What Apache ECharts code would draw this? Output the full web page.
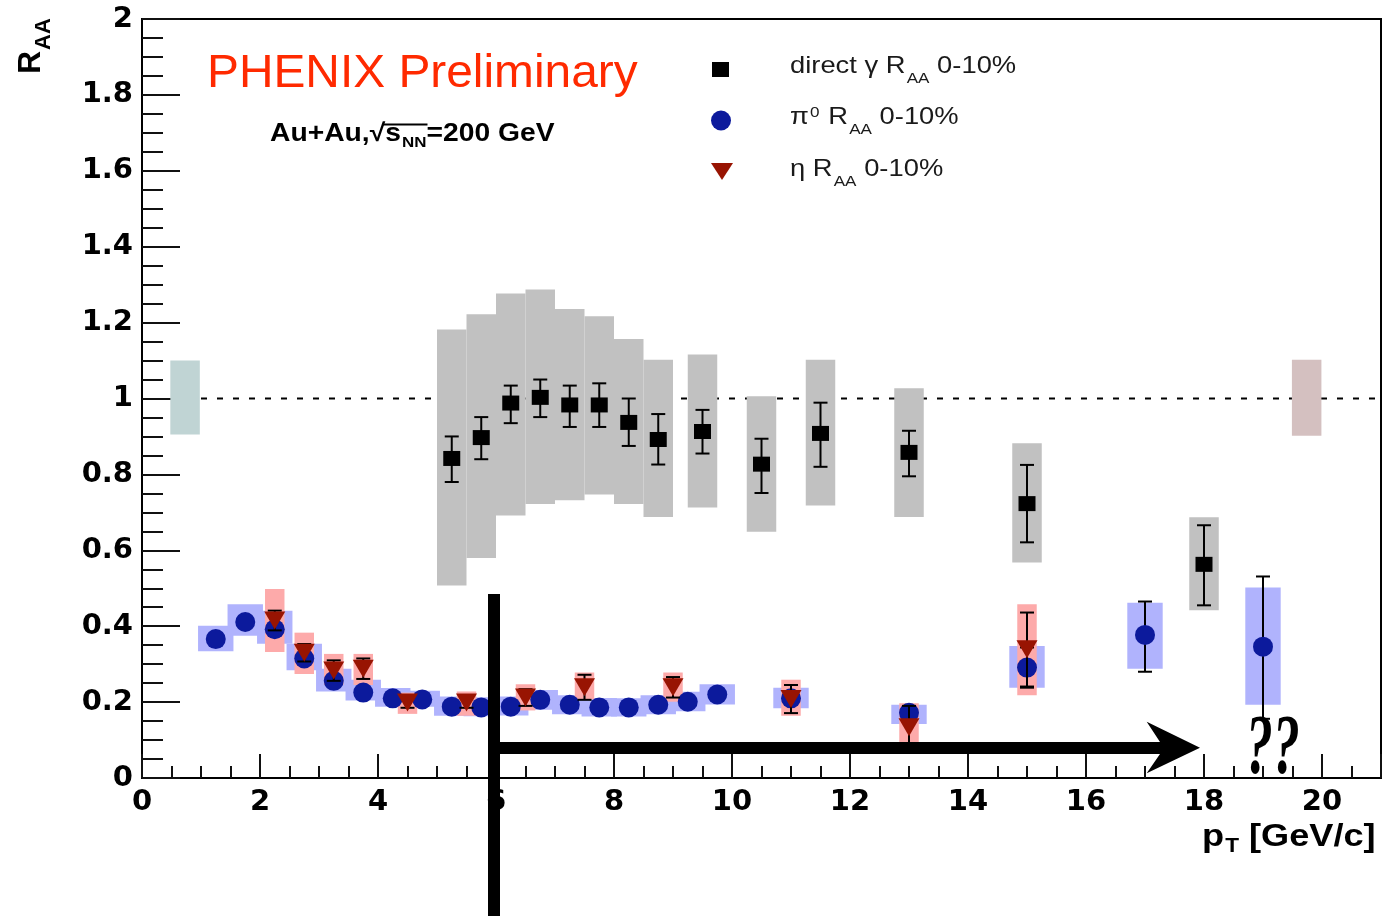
<!DOCTYPE html>
<html><head><meta charset="utf-8">
<script src="https://cdn.jsdelivr.net/npm/echarts@6/dist/echarts.min.js"></script>
<style>html,body{margin:0;padding:0;background:#fff;} #c{width:1384px;height:916px;}</style>
</head><body><div id="c"></div>
<script>
// ---------------- data ----------------
const xTickLabels = ['0','2','4','6','8','10','12','14','16','18','20'];
const yTickLabels = ['0','0.2','0.4','0.6','0.8','1','1.2','1.4','1.6','1.8','2'];

// direct photon R_AA 0-10%
const gammaX      = [5.25, 5.75, 6.25, 6.75, 7.25, 7.75, 8.25, 8.75, 9.5, 10.5, 11.5, 13, 15, 18];
const gammaY      = [0.842, 0.897, 0.988, 1.003, 0.983, 0.983, 0.937, 0.892, 0.913, 0.827, 0.908, 0.858, 0.723, 0.563];
const gammaStatLo = [0.780, 0.840, 0.935, 0.951, 0.925, 0.925, 0.875, 0.826, 0.855, 0.751, 0.820, 0.795, 0.621, 0.455];
const gammaStatHi = [0.900, 0.951, 1.034, 1.050, 1.034, 1.040, 1.000, 0.959, 0.970, 0.894, 0.989, 0.915, 0.825, 0.666];
const gammaSysLo  = [0.507, 0.580, 0.692, 0.722, 0.732, 0.747, 0.722, 0.688, 0.713, 0.649, 0.718, 0.688, 0.568, 0.442];
const gammaSysHi  = [1.182, 1.222, 1.277, 1.287, 1.236, 1.217, 1.157, 1.102, 1.116, 1.006, 1.102, 1.027, 0.882, 0.687];

// pi0 R_AA 0-10%
const pi0X      = [1.25, 1.75, 2.25, 2.75, 3.25, 3.75, 4.25, 4.75, 5.25, 5.75, 6.25, 6.75, 7.25, 7.75, 8.25, 8.75, 9.25, 9.75, 11, 13, 15, 17, 19];
const pi0Y      = [0.366, 0.411, 0.392, 0.315, 0.256, 0.225, 0.210, 0.207, 0.188, 0.186, 0.188, 0.206, 0.193, 0.186, 0.186, 0.193, 0.201, 0.220, 0.210, 0.172, 0.291, 0.377, 0.346];
const pi0StatLo = [0.358, 0.403, 0.384, 0.308, 0.249, 0.219, 0.204, 0.201, 0.182, 0.180, 0.182, 0.200, 0.187, 0.180, 0.180, 0.186, 0.194, 0.212, 0.198, 0.155, 0.238, 0.280, 0.156];
const pi0StatHi = [0.374, 0.419, 0.400, 0.322, 0.263, 0.231, 0.216, 0.213, 0.194, 0.192, 0.194, 0.212, 0.199, 0.192, 0.192, 0.200, 0.208, 0.228, 0.222, 0.189, 0.344, 0.465, 0.531];
const pi0SysLo  = [0.334, 0.375, 0.354, 0.284, 0.228, 0.204, 0.188, 0.188, 0.164, 0.163, 0.165, 0.180, 0.168, 0.162, 0.162, 0.168, 0.176, 0.194, 0.184, 0.142, 0.238, 0.288, 0.193];
const pi0SysHi  = [0.401, 0.458, 0.441, 0.354, 0.288, 0.259, 0.237, 0.230, 0.215, 0.213, 0.215, 0.232, 0.218, 0.211, 0.210, 0.218, 0.227, 0.247, 0.238, 0.193, 0.348, 0.462, 0.502];

// eta R_AA 0-10%
const etaX      = [2.25, 2.75, 3.25, 3.75, 4.5, 5.5, 6.5, 7.5, 9, 11, 13, 15];
const etaY      = [0.415, 0.330, 0.283, 0.288, 0.199, 0.199, 0.212, 0.239, 0.239, 0.208, 0.134, 0.339];
const etaStatLo = [0.389, 0.307, 0.256, 0.261, 0.185, 0.185, 0.190, 0.206, 0.212, 0.171, 0.078, 0.241];
const etaStatHi = [0.441, 0.353, 0.310, 0.315, 0.213, 0.213, 0.234, 0.272, 0.266, 0.245, 0.190, 0.436];
const etaSysLo  = [0.332, 0.274, 0.245, 0.245, 0.169, 0.164, 0.178, 0.207, 0.201, 0.164, 0.075, 0.218];
const etaSysHi  = [0.498, 0.383, 0.327, 0.327, 0.225, 0.228, 0.247, 0.278, 0.278, 0.259, 0.197, 0.458];

// normalisation uncertainty boxes at R_AA = 1
const normX  = [0.73, 19.74];
const normLo = [0.905, 0.902];
const normHi = [1.100, 1.102];

// reference line
const unityLine = [[1, 1], [21, 1]];

// ---------------- helpers ----------------
const zip3 = (x, a, b) => x.map((v, i) => [v, a[i], b[i]]);
const zip2 = (x, a) => x.map((v, i) => [v, a[i]]);

function boxRender(half, colors) {
  return function (params, api) {
    const x = api.value(0), lo = api.value(1), hi = api.value(2);
    const p1 = api.coord([x - half, hi]);
    const p2 = api.coord([x + half, lo]);
    const fill = Array.isArray(colors) ? colors[params.dataIndex] : colors;
    return { type: 'rect', shape: { x: p1[0], y: p1[1], width: p2[0] - p1[0], height: p2[1] - p1[1] },
             style: { fill: fill } };
  };
}
function errRender(cap) {
  return function (params, api) {
    const x = api.value(0);
    const lo = api.coord([x, api.value(1)]);
    const hi = api.coord([x, api.value(2)]);
    const st = { stroke: '#000', lineWidth: 2 };
    return { type: 'group', children: [
      { type: 'line', shape: { x1: lo[0], y1: lo[1], x2: hi[0], y2: hi[1] }, style: st },
      { type: 'line', shape: { x1: lo[0] - cap, y1: lo[1], x2: lo[0] + cap, y2: lo[1] }, style: st },
      { type: 'line', shape: { x1: hi[0] - cap, y1: hi[1], x2: hi[0] + cap, y2: hi[1] }, style: st }
    ] };
  };
}

const LF = '"Liberation Sans", Arial, Helvetica, sans-serif';
const MID = 0.3465; // baseline offset below canvas 'middle'

function richText(left, baseline, fs, subFs, subPad, text, opts) {
  opts = opts || {};
  const w = opts.weight || 'normal';
  const col = opts.color || '#1a1a1a';
  return {
    type: 'text', x: left, y: baseline - (0.5 + MID) * fs, scaleX: opts.scaleX || 1,
    rotation: opts.rotation || 0, z: 100, silent: true,
    style: {
      text: text, align: 'left', verticalAlign: 'top', fill: col,
      font: w + ' ' + fs + 'px ' + LF,
      rich: {
        m: { fontSize: fs, fontFamily: LF, fontWeight: w, fill: col, verticalAlign: 'top' },
        s: { fontSize: subFs, fontFamily: LF, fontWeight: w, fill: col, verticalAlign: 'top', padding: [subPad, 0, 0, 1] },
        u: { fontSize: subFs, fontFamily: LF, fontWeight: w, fill: col, verticalAlign: 'top', padding: [0, 1, 0, 1] }
      }
    }
  };
}

function measure(str, font) {
  const c = document.createElement('canvas').getContext('2d');
  c.font = font; return c.measureText(str).width;
}

// ---------------- chart ----------------
const chart = echarts.init(document.getElementById('c'), null, { renderer: 'canvas' });

const tickFont = { fontFamily: '"DejaVu Sans", sans-serif', fontWeight: 'bold', fontSize: 29, color: '#000' };

// Au+Au text geometry (overline over s_NN)
const auLeft = 270, auBase = 143, auFs = 25, auSub = 15, auScale = 1.13;
const w1 = measure('Au+Au,\u221A', 'bold ' + auFs + 'px ' + LF);
const w2 = measure('s', 'bold ' + auFs + 'px ' + LF) + 1 + measure('NN', 'bold ' + auSub + 'px ' + LF);

const option = {
  animation: false,
  backgroundColor: '#fff',
  grid: { left: 142, right: 2, top: 19, bottom: 138, show: true, borderColor: '#000', borderWidth: 2, backgroundColor: 'transparent' },
  xAxis: [
    { type: 'value', min: 0, max: 21, interval: 2, position: 'bottom', gridIndex: 0,
      axisLine: { show: true, onZero: false, lineStyle: { color: '#000', width: 2 } },
      axisTick: { show: true, inside: true, length: 24, lineStyle: { color: '#111', width: 2 } },
      axisLabel: Object.assign({ margin: 10, formatter: v => { const i = Math.round(v / 2); return (v % 2 === 0 && i < xTickLabels.length) ? xTickLabels[i] : ''; } }, tickFont),
      splitLine: { show: false } },
    { type: 'value', min: 0, max: 21, interval: 0.5, position: 'bottom', gridIndex: 0,
      axisLine: { show: false, onZero: false },
      axisTick: { show: true, inside: true, length: 12, lineStyle: { color: '#111', width: 2 } },
      axisLabel: { show: false }, splitLine: { show: false } }
  ],
  yAxis: [
    { type: 'value', min: 0, max: 2, interval: 0.2, position: 'left', gridIndex: 0,
      axisLine: { show: true, onZero: false, lineStyle: { color: '#000', width: 2 } },
      axisTick: { show: true, inside: true, length: 38, lineStyle: { color: '#111', width: 2 } },
      axisLabel: Object.assign({ margin: 9, padding: [10, 0, 0, 0], formatter: v => yTickLabels[Math.round(v / 0.2)] }, tickFont),
      splitLine: { show: false } },
    { type: 'value', min: 0, max: 2, interval: 0.05, position: 'left', gridIndex: 0,
      axisLine: { show: false, onZero: false },
      axisTick: { show: true, inside: true, length: 21, lineStyle: { color: '#111', width: 2 } },
      axisLabel: { show: false }, splitLine: { show: false } }
  ],
  series: [
    { name: 'unity', type: 'line', data: unityLine, symbol: 'none', z: 1, silent: true,
      lineStyle: { color: '#000', width: 2, type: [6, 10] } },
    { name: 'norm', type: 'custom', z: 2, silent: true, data: zip3(normX, normLo, normHi),
      encode: { x: 0, y: [1, 2] }, renderItem: boxRender(0.25, ['#c0d4d4', '#d4c0c0']) },
    { name: 'gammaSys', type: 'custom', z: 2, silent: true, data: zip3(gammaX, gammaSysLo, gammaSysHi),
      encode: { x: 0, y: [1, 2] }, renderItem: boxRender(0.25, '#c1c1c1') },
    { name: 'pi0Sys', type: 'custom', z: 2, silent: true, data: zip3(pi0X, pi0SysLo, pi0SysHi),
      encode: { x: 0, y: [1, 2] }, renderItem: boxRender(0.3, '#b0b3fd') },
    { name: 'etaSys', type: 'custom', z: 3, silent: true, data: zip3(etaX, etaSysLo, etaSysHi),
      encode: { x: 0, y: [1, 2] }, renderItem: boxRender(0.165, '#fdaaaa') },
    { name: 'gammaStat', type: 'custom', z: 4, silent: true, data: zip3(gammaX, gammaStatLo, gammaStatHi),
      encode: { x: 0, y: [1, 2] }, renderItem: errRender(7) },
    { name: 'direct \u03B3 R_AA 0-10%', type: 'scatter', z: 5, data: zip2(gammaX, gammaY),
      symbol: 'rect', symbolSize: [17, 15], itemStyle: { color: '#000', opacity: 1 } },
    { name: 'pi0Stat', type: 'custom', z: 4, silent: true, data: zip3(pi0X, pi0StatLo, pi0StatHi),
      encode: { x: 0, y: [1, 2] }, renderItem: errRender(7) },
    { name: '\u03C0\u2070 R_AA 0-10%', type: 'scatter', z: 5, data: zip2(pi0X, pi0Y),
      symbol: 'circle', symbolSize: 20, itemStyle: { color: '#0c1a9c', opacity: 1 } },
    { name: 'etaStat', type: 'custom', z: 6, silent: true, data: zip3(etaX, etaStatLo, etaStatHi),
      encode: { x: 0, y: [1, 2] }, renderItem: errRender(7) },
    { name: '\u03B7 R_AA 0-10%', type: 'scatter', z: 7, data: zip2(etaX, etaY),
      symbol: 'triangle', symbolRotate: 180, symbolSize: [21, 18], itemStyle: { color: '#981402', opacity: 1 } }
  ],
  graphic: [
    // legend markers
    { type: 'rect', z: 100, shape: { x: 712, y: 62, width: 17, height: 15 }, style: { fill: '#000' } },
    { type: 'circle', z: 100, shape: { cx: 721, cy: 120.5, r: 10 }, style: { fill: '#0c1a9c' } },
    { type: 'polygon', z: 100, shape: { points: [[711, 163], [733, 163], [722, 180]] }, style: { fill: '#981402' } },
    // legend texts
    richText(790, 75, 24, 15, 17, '{m|direct \u03B3 R}{s|AA}{m| 0-10%}', { scaleX: 1.14 }),
    richText(790, 126, 24, 15, 17, '{m|\u03C0}{u|0}{m| R}{s|AA}{m| 0-10%}', { scaleX: 1.14 }),
    richText(790, 178, 24, 15, 17, '{m|\u03B7 R}{s|AA}{m| 0-10%}', { scaleX: 1.14 }),
    // PHENIX Preliminary
    { type: 'text', z: 100, x: 207, y: 90 - (0.5 + MID) * 46, scaleX: 1.04, silent: true,
      style: { text: 'PHENIX Preliminary', fill: '#ff2a00', font: 'normal 46px ' + LF, align: 'left', verticalAlign: 'top' } },
    // Au+Au, sqrt(s_NN) = 200 GeV
    richText(auLeft, auBase, auFs, auSub, 14, '{m|Au+Au,\u221As}{s|NN}{m|=200 GeV}', { weight: 'bold', color: '#000', scaleX: auScale }),
    { type: 'line', z: 100, shape: { x1: auLeft + auScale * w1 - 2, y1: auBase - 18.5, x2: auLeft + auScale * (w1 + w2) + 1, y2: auBase - 18.5 },
      style: { stroke: '#000', lineWidth: 2 } },
    // y axis title R_AA (rotated)
    { type: 'text', z: 100, x: 15, y: 74, rotation: Math.PI / 2, silent: true,
      style: { text: '{m|R}{s|AA}', align: 'left', verticalAlign: 'top', fill: '#000',
        rich: { m: { fontSize: 32, fontFamily: LF, fontWeight: 'bold', verticalAlign: 'top', fill: '#000' },
                s: { fontSize: 22, fontFamily: LF, fontWeight: 'bold', verticalAlign: 'top', fill: '#000', padding: [18, 0, 0, 1] } } } },
    // x axis title p_T [GeV/c]
    richText(1202, 848, 32, 20, 16, '{m|p}{s|T}{m| [GeV/c]}', { weight: 'bold', color: '#000', scaleX: 1.13 }),
    // thick annotation arrows
    { type: 'rect', z: 100, shape: { x: 488, y: 594, width: 12, height: 330 }, style: { fill: '#000' } },
    { type: 'rect', z: 100, shape: { x: 488, y: 742, width: 674, height: 12 }, style: { fill: '#000' } },
    { type: 'polygon', z: 100, shape: { points: [[1146.7, 721.7], [1200, 747.7], [1146.7, 773.3], [1160, 754], [1160, 742]] }, style: { fill: '#000' } },
    // question marks
    { type: 'text', z: 100, x: 1246, y: 780 - 0.8375 * 84, scaleX: 0.64, silent: true,
      style: { text: '??', fill: '#000', font: 'italic bold 84px "Liberation Serif", serif', align: 'left', verticalAlign: 'top' } }
  ]
};
chart.setOption(option);
</script></body></html>
